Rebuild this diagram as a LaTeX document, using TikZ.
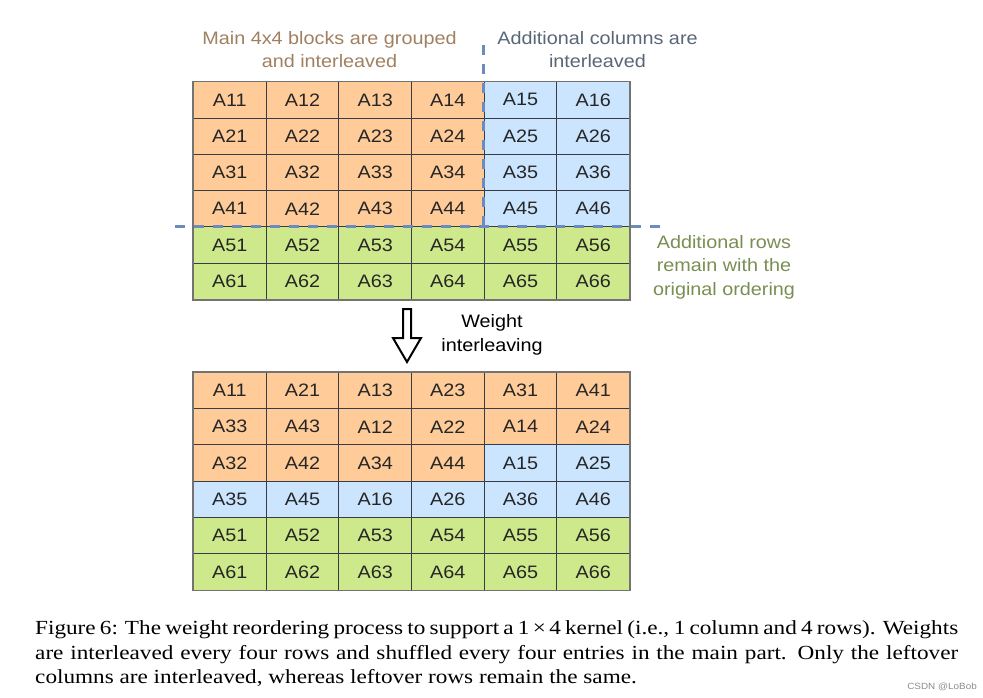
\documentclass[tikz,border=0pt]{standalone}
\usepackage{fontspec}
\setmainfont[FakeStretch=1.1]{Liberation Sans}
\newfontfamily\capfont[FakeStretch=1.16]{Liberation Serif}
\definecolor{cellorange}{RGB}{255,204,153}
\definecolor{cellblue}{RGB}{204,229,255}
\definecolor{cellgreen}{RGB}{206,233,139}
\definecolor{labelbrown}{RGB}{160,128,96}
\definecolor{labelslate}{RGB}{88,102,118}
\definecolor{labelolive}{RGB}{122,142,82}
\definecolor{splitblue}{RGB}{108,140,192}
\definecolor{gridline}{RGB}{55,60,70}

\begin{document}
\begin{tikzpicture}[x=1pt,y=-1pt,
    cell/.style={draw=gridline,line width=0.9pt,minimum width=72.67pt,minimum height=36.3pt,inner sep=0pt,text=black!85,font=\fontsize{18}{20}\selectfont},
    frame/.style={draw=black!55,line width=1.3pt},
    note/.style={align=center,inner sep=0pt,font=\fontsize{18}{23.5}\selectfont},
    split/.style={splitblue,line width=2.6pt,dash pattern=on 10pt off 9pt},
    blockarrow/.style={draw=black,line width=2pt,line join=miter,fill=white}]
        \useasboundingbox (0,0) rectangle (983,697);
        % original 6x6 weights
        \foreach \r/\fa/\fb in {1/cellorange/cellblue,2/cellorange/cellblue,3/cellorange/cellblue,4/cellorange/cellblue,5/cellgreen/cellgreen,6/cellgreen/cellgreen}{
            \foreach \c in {1,...,6}{
                \ifnum\c<5 \def\fc{\fa}\else\def\fc{\fb}\fi
                \node[cell,fill=\fc] (t\r\c) at ({193.5+(\c-0.5)*72.67},{81.7+(\r-0.5)*36.3}) {A\r\c};
            }
        }
        \draw[frame] (t11.north west) rectangle (t66.south east);
        % interleaved weights
        \foreach \r/\fa/\fb/\row in {1/cellorange/cellorange/{11,21,13,23,31,41},2/cellorange/cellorange/{33,43,12,22,14,24},3/cellorange/cellblue/{32,42,34,44,15,25},4/cellblue/cellblue/{35,45,16,26,36,46},5/cellgreen/cellgreen/{51,52,53,54,55,56},6/cellgreen/cellgreen/{61,62,63,64,65,66}}{
            \foreach \v [count=\c] in \row{
                \ifnum\c<5 \def\fc{\fa}\else\def\fc{\fb}\fi
                \node[cell,fill=\fc] (b\r\c) at ({193.5+(\c-0.5)*72.67},{372.3+(\r-0.5)*36.3}) {A\v};
            }
        }
        \draw[frame] (b11.north west) rectangle (b66.south east);
        % split lines
        \draw[split] ([yshift=36.7pt]t15.north west) -- (t45.south west);
        \draw[split] ([xshift=-18pt]t51.north west) -- ([xshift=35pt]t56.north east);
        % labels
        \node[note,text=labelbrown] (mainlbl) at (329.5,49.5) {Main 4x4 blocks are grouped\\and interleaved};
        \node[note,text=labelslate] (collbl) at (597.5,49.5) {Additional columns are\\interleaved};
        \node[note,text=labelolive] (rowlbl) at (724,267) {Additional rows\\remain with the\\original ordering};
        % step
        \draw[blockarrow] (403,309) -- (403,338) -- (393,338) -- (407,362) -- (421,338) -- (411,338) -- (411,309) -- cycle;
        \node[note] (steplbl) at (492,335) {Weight\\interleaving};
        % caption
        \node[anchor=north west,align=left,inner sep=0pt,font=\capfont\fontsize{20}{24.5}\selectfont] (caption) at (35,620.5)
            {\makebox[923pt][s]{Figure 6: The weight reordering process to support a 1\,×\,4 kernel (i.e., 1 column and 4 rows). Weights}\\
            \makebox[923pt][s]{are interleaved every four rows and shuffled every four entries in the main part. Only the leftover}\\
            columns are interleaved, whereas leftover rows remain the same.};
        \node[anchor=east,inner sep=0pt,text=black!45,font=\fontsize{9}{10}\selectfont] (mark) at (977,687) {CSDN @LoBob};
    \end{tikzpicture}
\end{document}
